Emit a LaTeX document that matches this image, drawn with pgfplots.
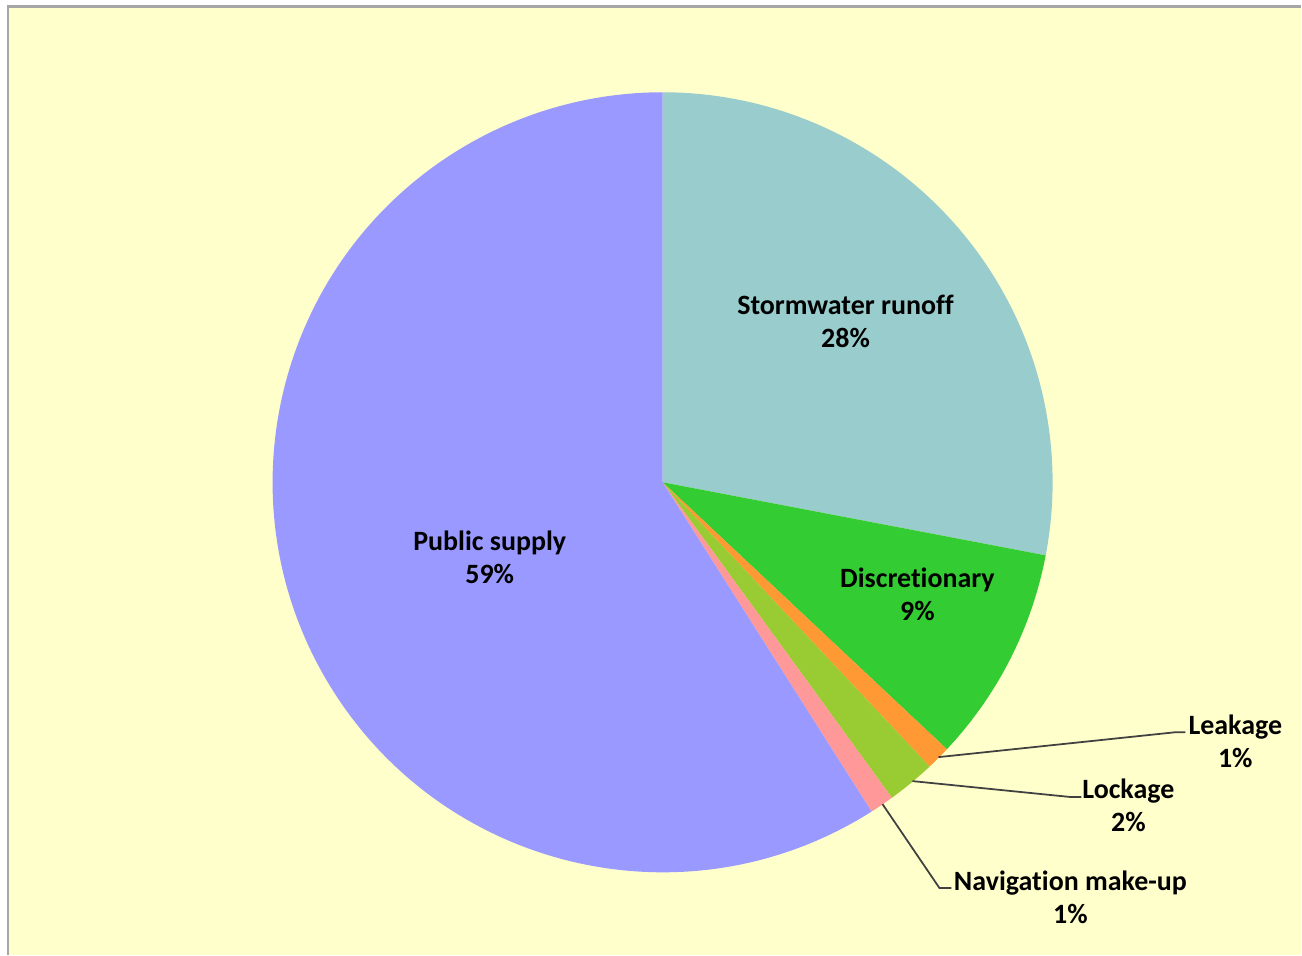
\documentclass[border=0pt]{standalone}
\usepackage{fontspec}
\setmainfont{Carlito}[Ligatures=NoCommon]
\usepackage{pgfplots}
\pgfplotsset{compat=1.18}
\definecolor{bgY}{HTML}{FFFFCC}
\definecolor{cStorm}{HTML}{99CCCC}
\definecolor{cDisc}{HTML}{33CC33}
\definecolor{cLeak}{HTML}{FF9933}
\definecolor{cLock}{HTML}{99CC33}
\definecolor{cNav}{HTML}{FF9999}
\definecolor{cPub}{HTML}{9999FF}
\definecolor{leader}{HTML}{404040}
\tikzset{lbl/.style={font=\bfseries\fontsize{7.95}{9.5}\selectfont, align=center, text=black, inner sep=0pt}}
% slice: #1 = cumulative percent before the slice, #2 = percent, #3 = colour
\newcommand{\pieslice}[3]{%
  \fill[#3] (axis cs:663,473) -- ++({90-3.6*#1}:3.9cm)
    arc[start angle={90-3.6*#1}, end angle={90-3.6*(#1+#2)}, radius=3.9cm] -- cycle;}
\begin{document}
\begin{tikzpicture}
\begin{axis}[
  at={(0,0)}, anchor=origin,
  x=0.01cm, y=0.01cm,
  xmin=0, xmax=1302, ymin=0, ymax=955,
  hide axis, clip=false,
]
\fill[white] (axis cs:0,0) rectangle (axis cs:1302,955);
\fill[bgY] (axis cs:8,0) rectangle (axis cs:1302,949);
\draw[black!35, line width=0.6pt] (axis cs:8,0) -- (axis cs:8,949) -- (axis cs:1302,949);
% values (percent): Stormwater 28, Discretionary 9, Leakage 1, Lockage 2, Navigation 1, Public 59
\pieslice{0}{28}{cStorm}
\pieslice{28}{9}{cDisc}
\pieslice{37}{1}{cLeak}
\pieslice{38}{2}{cLock}
\pieslice{40}{1}{cNav}
\pieslice{41}{59}{cPub}
% leader lines
\draw[leader, line width=0.5pt] (axis cs:939,198) -- (axis cs:1177,223) -- (axis cs:1186,223);
\draw[leader, line width=0.5pt] (axis cs:913,174) -- (axis cs:1072,158) -- (axis cs:1082,158);
\draw[leader, line width=0.5pt] (axis cs:883,151) -- (axis cs:940,67) -- (axis cs:952,67);
% labels
\node[lbl] at (axis cs:846,634) {Stormwater runoff\\28\%};
\node[lbl] at (axis cs:918,361) {Discretionary\\9\%};
\node[lbl] at (axis cs:490,398) {Public supply\\59\%};
\node[lbl] at (axis cs:1236,214) {Leakage\\1\%};
\node[lbl] at (axis cs:1129,150) {Lockage\\2\%};
\node[lbl] at (axis cs:1071,58) {Navigation make-up\\1\%};
\end{axis}
\pgfresetboundingbox
\path[use as bounding box] (0,0) rectangle (13.02,9.55);
\end{tikzpicture}
\end{document}
